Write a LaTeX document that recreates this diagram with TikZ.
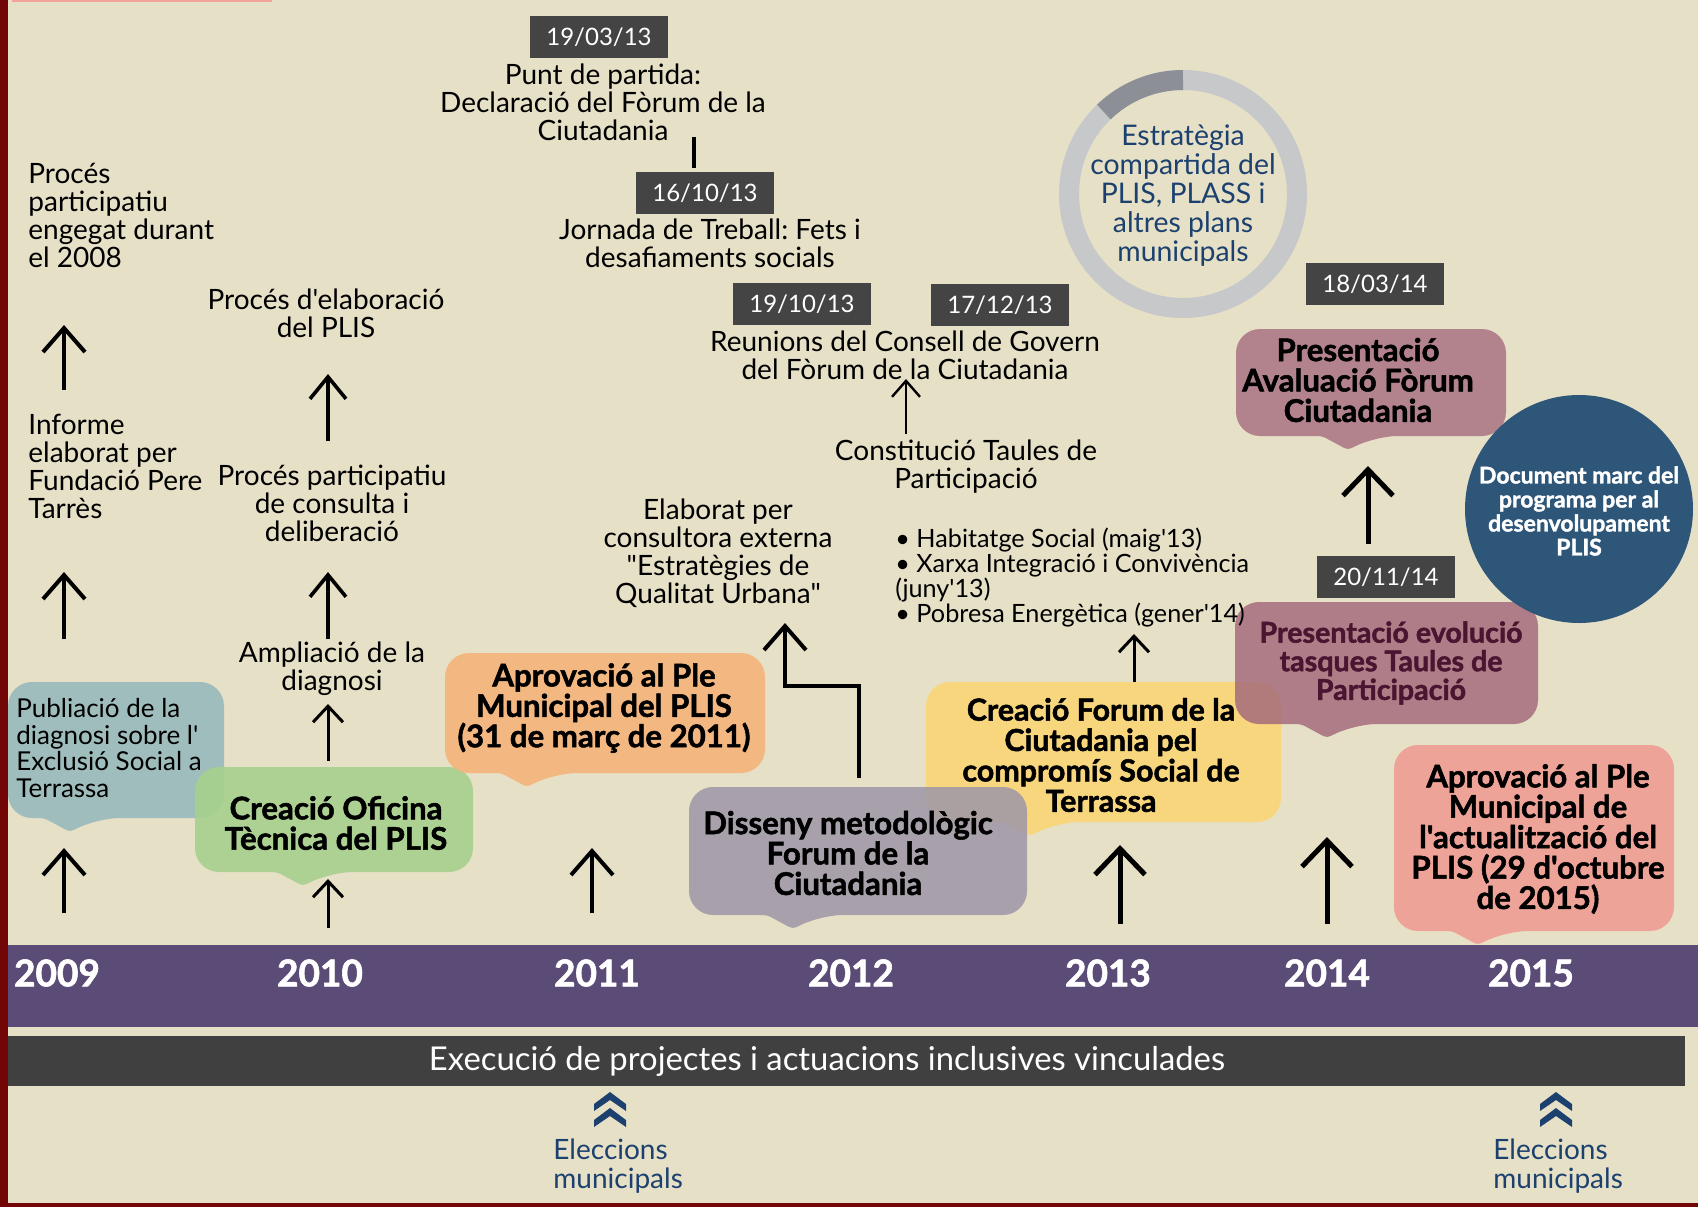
\documentclass[tikz,border=0pt]{standalone}
\usepackage{fontspec}
\setmainfont{Lato}[Ligatures=TeXOff,BoldFeatures={FakeBold=1.6}]
\usetikzlibrary{arrows.meta}
\frenchspacing
\definecolor{bg}{HTML}{E6E0C7}
\definecolor{bordred}{HTML}{720606}
\definecolor{pinkstrip}{HTML}{F4A39A}
\definecolor{bandpurple}{HTML}{5B4C77}
\definecolor{darkbar}{HTML}{404040}
\definecolor{dategray}{HTML}{444444}
\definecolor{navy}{HTML}{1C416E}
\definecolor{ringlight}{HTML}{C6C8CA}
\definecolor{ringdark}{HTML}{8C9096}
\definecolor{circblue}{HTML}{2E5679}
\definecolor{cteal}{HTML}{97BABB}
\definecolor{cgreen}{HTML}{A6D08D}
\definecolor{corange}{HTML}{F4B57E}
\definecolor{cgray}{HTML}{A098A6}
\definecolor{cyellow}{HTML}{F9D67A}
\definecolor{cmauve}{HTML}{B07E8A}
\definecolor{cmauvetwo}{HTML}{A56C7C}
\definecolor{csalmon}{HTML}{EFA097}
\definecolor{maroon}{HTML}{4A1530}
% bubble: #1 colour, #2 opacity, #3 x1, #4 y1, #5 x2, #6 y2, #7 tail x
\newcommand\bubble[7]{\fill[#1,fill opacity=#2,rounded corners=12pt] (#3,#4) -- (#5,#4) -- (#5,#6) -- ({#7+26},#6) [rounded corners=2pt] -- (#7,{#6+14}) -- ({#7-26},#6) [rounded corners=12pt] -- (#3,#6) -- cycle;}
\newcommand\chev[2]{\fill[navy] ({#1-16},{#2+12}) -- (#1,#2) -- ({#1+16},{#2+12}) -- ({#1+16},{#2+19}) -- (#1,{#2+8}) -- ({#1-16},{#2+19}) -- cycle;}
\begin{document}
\begin{tikzpicture}[x=0.5pt,y=-0.5pt,
 txt/.style={inner sep=0pt,align=center,font=\fontsize{14}{14}\selectfont},
 ltxt/.style={inner sep=0pt,align=left,anchor=west,font=\fontsize{14}{14}\selectfont},
 btxt/.style={inner sep=0pt,align=center,font=\fontsize{15.6}{15.2}\selectfont\bfseries},
 datebox/.style={fill=dategray,text=white,minimum width=69pt,minimum height=21pt,inner sep=0pt,font=\fontsize{12}{12}\selectfont},
 yr/.style={inner sep=0pt,text=white,font=\fontsize{18.5}{18.5}\selectfont\bfseries},
 arrA/.style={line width=2pt,-{Straight Barb[length=12pt,width=21pt,line width=2pt]}},
 arrM/.style={line width=1.8pt,-{Straight Barb[length=11pt,width=18pt,line width=1.8pt]}},
 arrS/.style={line width=1.5pt,-{Straight Barb[length=8pt,width=15pt,line width=1.5pt]}},
 arrT/.style={line width=1.2pt,-{Straight Barb[length=8pt,width=14pt,line width=1.2pt]}},
 arrK/.style={line width=2.5pt,-{Straight Barb[length=13pt,width=25pt,line width=2.5pt]}},
 elec/.style={inner sep=0pt,align=left,anchor=west,text=navy,font=\fontsize{14}{14.5}\selectfont}
]
\useasboundingbox (0,0) rectangle (1698,1207);
\fill[bg] (0,0) rectangle (1698,1207);
\fill[bordred] (0,0) rectangle (8,1207);
\fill[bordred] (0,1203) rectangle (1698,1207);
\fill[pinkstrip] (12,0) rectangle (272,2);

% timeline bands
\fill[bandpurple] (8,945) rectangle (1698,1027);
\fill[darkbar] (8,1036) rectangle (1685,1086);
\node[inner sep=0pt,text=white,font=\fontsize{16.4}{16.4}\selectfont] (exec) at (827,1061) {Execució de projectes i actuacions inclusives vinculades};
\node[yr] (y09) at (57,973) {2009};
\node[yr] (y10) at (320,973) {2010};
\node[yr] (y11) at (597,973) {2011};
\node[yr] (y12) at (851,973) {2012};
\node[yr] (y13) at (1108,973) {2013};
\node[yr] (y14) at (1327,973) {2014};
\node[yr] (y15) at (1531,973) {2015};

% elections
\chev{610}{1092}\chev{610}{1108}
\chev{1556}{1092}\chev{1556}{1108}
\node[elec] (el1) at (553,1166) {Eleccions\\municipals};
\node[elec] (el2) at (1493,1166) {Eleccions\\municipals};

% ring
\draw[ringlight,line width=10pt] (1183,194) circle[radius=114];
\draw[ringdark,line width=10pt] (1183,194) ++(226:114) arc[start angle=226,end angle=270,radius=114];
\node[inner sep=0pt,align=center,text=navy,font=\fontsize{14.2}{14.5}\selectfont] (ring) at (1183,196) {Estratègia\\compartida del\\PLIS, PLASS i\\altres plans\\municipals};

% bubbles
\bubble{cteal}{0.9}{8}{682}{224}{818}{70}
\bubble{cgreen}{0.9}{195}{767}{473}{872}{303}
\bubble{corange}{0.95}{445}{653}{765}{773}{527}
\bubble{cyellow}{0.95}{926}{682}{1281}{822}{1030}
\bubble{cgray}{0.88}{689}{787}{1027}{915}{793}
\bubble{cmauve}{0.95}{1236}{329}{1506}{436}{1348}
\bubble{cmauvetwo}{0.85}{1235}{602}{1538}{724}{1327}
\bubble{csalmon}{0.95}{1394}{745}{1674}{931}{1478}
\fill[circblue] (1579,509) circle[radius=114];

% bubble texts
\node[inner sep=0pt,align=left,anchor=west,font=\fontsize{13}{13.4}\selectfont] (pub) at (16,748) {Publiació de la\\diagnosi sobre l'\\Exclusió Social a\\Terrassa};
\node[btxt] (oficina) at (336,823) {Creació Oficina\\Tècnica del PLIS};
\node[btxt] (aprov11) at (604,708) {Aprovació al Ple\\Municipal del PLIS\\(31 de març de 2011)};
\node[btxt] (disseny) at (848,853) {Disseny metodològic\\Forum de la\\Ciutadania};
\node[btxt,font=\fontsize{15.2}{15.2}\selectfont\bfseries] (forum) at (1101,755) {Creació Forum de la\\Ciutadania pel\\compromís Social de\\Terrassa};
\node[btxt] (aval) at (1358,380) {Presentació\\Avaluació Fòrum\\Ciutadania};
\node[inner sep=0pt,align=center,text=maroon,font=\fontsize{14.3}{14.3}\selectfont\bfseries] (evol) at (1391,663) {Presentació evolució\\tasques Taules de\\Participació};
\node[btxt] (aprov15) at (1538,839) {Aprovació al Ple\\Municipal de\\l'actualització del\\PLIS (29 d'octubre\\de 2015)};
\node[inner sep=0pt,align=center,text=white,font=\fontsize{11.5}{12}\selectfont\bfseries] (doc) at (1579,511) {Document marc del\\programa per al\\desenvolupament\\PLIS};

% 2009 column
\node[ltxt] (p2008) at (28,215) {Procés\\participatiu\\engegat durant\\el 2008};
\node[ltxt] (informe) at (28,466) {Informe\\elaborat per\\Fundació Pere\\Tarrès};
\coordinate (a1b) at (64,390); \coordinate (a1t) at (64,325);
\coordinate (a2b) at (64,639); \coordinate (a2t) at (64,572);
\coordinate (a3b) at (64,913); \coordinate (a3t) at (64,848);
\draw[arrA] (a1b) -- (a1t);
\draw[arrA] (a2b) -- (a2t);
\draw[arrA] (a3b) -- (a3t);

% 2010 column
\node[txt] (elab) at (326,313) {Procés d'elaboració\\del PLIS};
\node[txt] (consulta) at (332,503) {Procés participatiu\\de consulta i\\deliberació};
\node[txt] (ampl) at (332,669) {Ampliació de la\\diagnosi};
\coordinate (b1b) at (328,441); \coordinate (b1t) at (328,374);
\coordinate (b2b) at (328,639); \coordinate (b2t) at (328,572);
\coordinate (b3b) at (328,761); \coordinate (b3t) at (328,704);
\coordinate (b4b) at (328,928); \coordinate (b4t) at (328,879);
\draw[arrM] (b1b) -- (b1t);
\draw[arrM] (b2b) -- (b2t);
\draw[arrS] (b3b) -- (b3t);
\draw[arrS] (b4b) -- (b4t);

% 2011 column
\coordinate (c1b) at (592,913); \coordinate (c1t) at (592,848);
\draw[arrA] (c1b) -- (c1t);
\node[txt] (consult) at (718,553) {Elaborat per\\consultora externa\\"Estratègies de\\Qualitat Urbana"};
\coordinate (e1) at (859,778); \coordinate (e2) at (785,623);
\draw[arrA] (e1) -- ++(0,-92) -| (e2);

% top middle
\node[datebox] (d1) at (599,37) {19/03/13};
\node[txt] (punt) at (603,102) {Punt de partida:\\Declaració del Fòrum de la\\Ciutadania};
\coordinate (v1t) at (694,137); \coordinate (v1b) at (694,168);
\draw[line width=2.2pt] (v1t) -- (v1b);
\node[datebox] (d2) at (705,193) {16/10/13};
\node[txt] (jornada) at (710,243) {Jornada de Treball: Fets i\\desafiaments socials};
\node[datebox] (d3) at (802,304) {19/10/13};
\node[datebox] (d4) at (1000,305) {17/12/13};
\node[txt] (reunions) at (905,355) {Reunions del Consell de Govern\\del Fòrum de la Ciutadania};
\coordinate (f1b) at (906,434); \coordinate (f1t) at (906,379);
\draw[arrT] (f1b) -- (f1t);
\node[txt] (taules) at (966,467) {Constitució Taules de\\Participació};
\node[inner sep=0pt,align=left,anchor=west,font=\fontsize{12.6}{12.5}\selectfont] (bullets) at (895,578) {• Habitatge Social (maig'13)\\• Xarxa Integració i Convivència\\(juny'13)\\• Pobresa Energètica (gener'14)};
\coordinate (g1b) at (1134,682); \coordinate (g1t) at (1134,634);
\draw[arrS] (g1b) -- (g1t);
\coordinate (g2b) at (1120,924); \coordinate (g2t) at (1120,845);
\draw[arrK] (g2b) -- (g2t);

% 2014 column
\node[datebox] (d5) at (1375,284) {18/03/14};
\coordinate (h1b) at (1368,544); \coordinate (h1t) at (1368,466);
\draw[arrK] (h1b) -- (h1t);
\node[datebox] (d6) at (1386,577) {20/11/14};
\coordinate (h2b) at (1327,924); \coordinate (h2t) at (1327,837);
\draw[arrK] (h2b) -- (h2t);
\end{tikzpicture}
\end{document}
